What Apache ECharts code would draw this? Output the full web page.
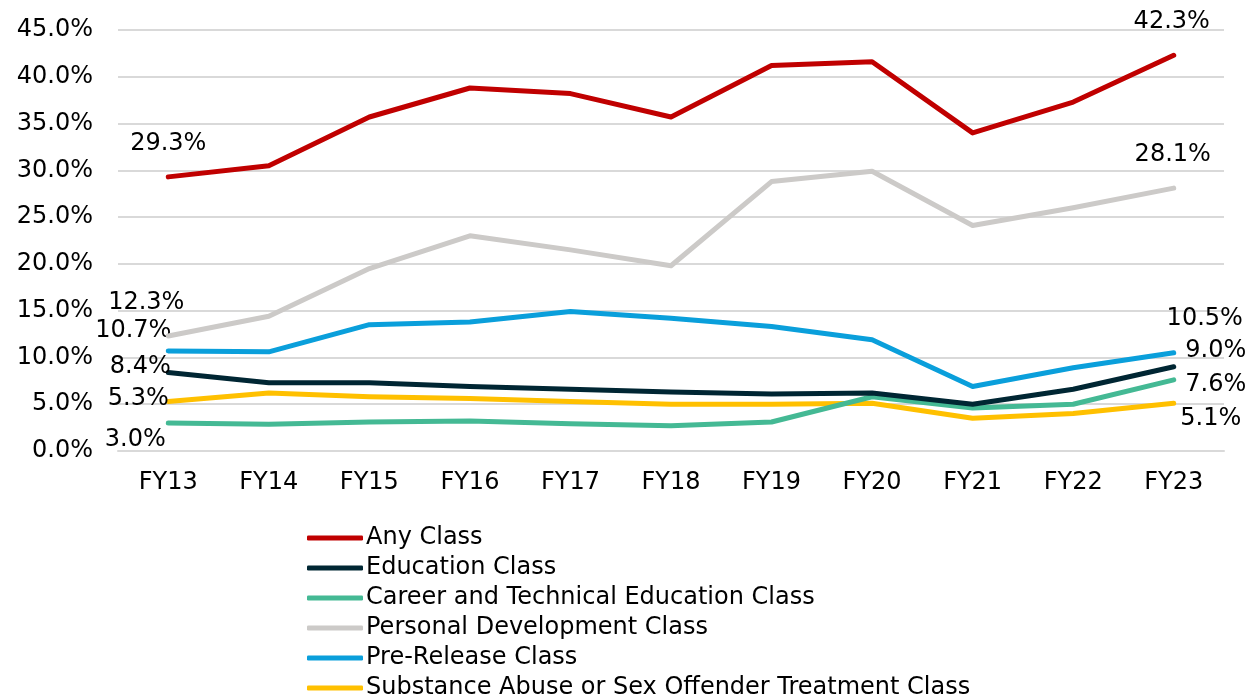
<!DOCTYPE html>
<html>
<head>
<meta charset="utf-8">
<script src="https://cdn.jsdelivr.net/npm/echarts@6/dist/echarts.min.js"></script>
<style>
    html, body { margin: 0; padding: 0; background: #fff; }
    #chart { width: 1251px; height: 696px; }
</style>
</head>
<body>
<div id="chart"></div>
<script>
    "use strict";

    // datos
    var years = ['FY13', 'FY14', 'FY15', 'FY16', 'FY17', 'FY18', 'FY19', 'FY20', 'FY21', 'FY22', 'FY23'];
    var seriesNames = [
        'Any Class',
        'Education Class',
        'Career and Technical Education Class',
        'Personal Development Class',
        'Pre-Release Class',
        'Substance Abuse or Sex Offender Treatment Class'
    ];
    var anyClass = [29.3, 30.5, 35.7, 38.8, 38.2, 35.7, 41.2, 41.6, 34.0, 37.3, 42.3];
    var educationClass = [8.4, 7.3, 7.3, 6.9, 6.6, 6.3, 6.1, 6.2, 5.0, 6.6, 9.0];
    var careerTechClass = [3.0, 2.85, 3.1, 3.2, 2.9, 2.7, 3.1, 5.8, 4.6, 5.0, 7.6];
    var personalDevClass = [12.3, 14.4, 19.5, 23.0, 21.5, 19.8, 28.8, 29.9, 24.1, 26.0, 28.1];
    var preReleaseClass = [10.7, 10.6, 13.5, 13.8, 14.9, 14.2, 13.3, 11.9, 6.9, 8.9, 10.5];
    var substanceClass = [5.3, 6.2, 5.8, 5.6, 5.3, 5.0, 5.0, 5.1, 3.5, 4.0, 5.1];
    var yTicks = [0, 5, 10, 15, 20, 25, 30, 35, 40, 45];

    var valores = [anyClass, educationClass, careerTechClass, personalDevClass, preReleaseClass, substanceClass];
    var colores = ['#C00000', '#002633', '#44B994', '#CCCAC8', '#0A9FDB', '#FFC000'];
    // desplazamiento de las etiquetas del primer y ultimo punto
    var offsetsInicio = [[0, -33], [-28, -6], [-33, 17], [-22, -33], [-35, -20], [-30, -3]];
    var offsetsFin = [[-2, -33], [42, -16], [42, 5], [-1, -33], [31, -34], [37, 15]];

    var fuente = '"DejaVu Sans", Verdana, sans-serif';

    function buildData(vals, idx) {
        return vals.map(function (v, i) {
            var item = { value: v };
            if (i === 0 || i === vals.length - 1) {
                item.label = {
                    show: true,
                    position: 'inside',
                    offset: i === 0 ? offsetsInicio[idx] : offsetsFin[idx],
                    formatter: function (p) { return p.value.toFixed(1) + '%'; },
                    color: '#000',
                    fontSize: 24,
                    fontFamily: fuente,
                    textBorderWidth: 0
                };
            }
            return item;
        });
    }

    var series = valores.map(function (vals, idx) {
        return {
            name: seriesNames[idx],
            type: 'line',
            data: buildData(vals, idx),
            symbol: 'circle',
            symbolSize: 1,
            showSymbol: true,
            itemStyle: { color: colores[idx] },
            lineStyle: { width: 5, color: colores[idx], cap: 'round', join: 'round' },
            label: { show: false },
            emphasis: { disabled: true },
            animation: false,
            z: 10 - idx
        };
    });

    var chart = echarts.init(document.getElementById('chart'));
    chart.setOption({
        backgroundColor: '#fff',
        animation: false,
        grid: { left: 118, right: 27, top: 30, bottom: 245 },
        xAxis: {
            type: 'category',
            data: years,
            boundaryGap: true,
            axisLine: { show: true, lineStyle: { color: '#D9D9D9', width: 2 } },
            axisTick: { show: false },
            axisLabel: { color: '#000', fontSize: 24, fontFamily: fuente, margin: 20 }
        },
        yAxis: {
            type: 'value',
            min: yTicks[0],
            max: yTicks[yTicks.length - 1],
            interval: 5,
            axisLine: { show: false },
            axisTick: { show: false },
            splitLine: { lineStyle: { color: '#D9D9D9', width: 2 } },
            axisLabel: {
                color: '#000',
                fontSize: 24,
                fontFamily: fuente,
                margin: 25,
                formatter: function (v) { return v.toFixed(1) + '%'; }
            }
        },
        legend: {
            orient: 'vertical',
            left: 302,
            top: 521,
            height: 300,
            icon: 'roundRect',
            itemWidth: 56,
            itemHeight: 5,
            itemGap: 6,
            data: seriesNames,
            textStyle: { color: '#000', fontSize: 24, fontFamily: fuente, lineHeight: 24, padding: [0, 0, 0, -2] }
        },
        series: series
    });
</script>
</body>
</html>
